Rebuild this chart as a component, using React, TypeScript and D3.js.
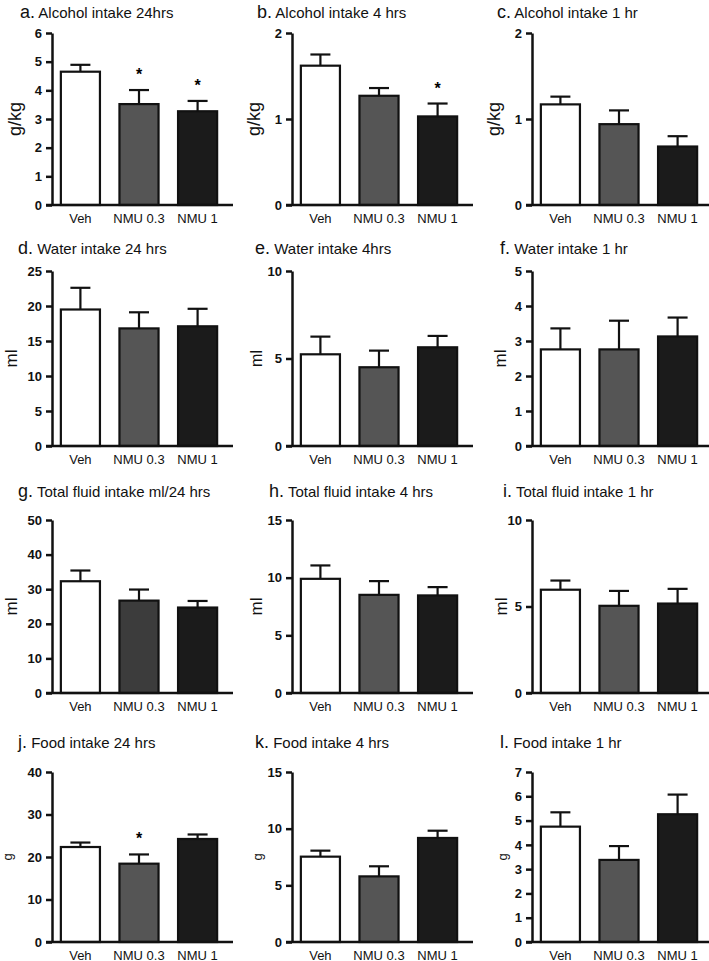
import React, { useEffect, useRef } from 'react';
import * as d3 from 'd3';

const categories = ['Veh', 'NMU 0.3', 'NMU 1'];

// means and SEM
const alcohol24Mean = [4.65, 3.52, 3.27];
const alcohol24Sem = [0.24, 0.49, 0.36];
const alcohol24Ticks = [0, 1, 2, 3, 4, 5, 6];

const alcohol4Mean = [1.62, 1.27, 1.03];
const alcohol4Sem = [0.13, 0.09, 0.15];
const alcohol4Ticks = [0, 1, 2];

const alcohol1Mean = [1.17, 0.94, 0.68];
const alcohol1Sem = [0.09, 0.16, 0.12];
const alcohol1Ticks = [0, 1, 2];

const water24Mean = [19.5, 16.8, 17.1];
const water24Sem = [3.1, 2.3, 2.5];
const water24Ticks = [0, 5, 10, 15, 20, 25];

const water4Mean = [5.24, 4.5, 5.64];
const water4Sem = [1.01, 0.95, 0.65];
const water4Ticks = [0, 5, 10];

const water1Mean = [2.76, 2.76, 3.13];
const water1Sem = [0.6, 0.82, 0.54];
const water1Ticks = [0, 1, 2, 3, 4, 5];

const fluid24Mean = [32.3, 26.7, 24.7];
const fluid24Sem = [3.1, 3.2, 1.9];
const fluid24Ticks = [0, 10, 20, 30, 40, 50];

const fluid4Mean = [9.9, 8.51, 8.46];
const fluid4Sem = [1.16, 1.19, 0.72];
const fluid4Ticks = [0, 5, 10, 15];

const fluid1Mean = [5.97, 5.04, 5.17];
const fluid1Sem = [0.53, 0.86, 0.85];
const fluid1Ticks = [0, 5, 10];

const food24Mean = [22.35, 18.43, 24.24];
const food24Sem = [1.05, 2.17, 1.06];
const food24Ticks = [0, 10, 20, 30, 40];

const food4Mean = [7.53, 5.79, 9.18];
const food4Sem = [0.53, 0.89, 0.64];
const food4Ticks = [0, 5, 10, 15];

const food1Mean = [4.75, 3.38, 5.26];
const food1Sem = [0.59, 0.57, 0.81];
const food1Ticks = [0, 1, 2, 3, 4, 5, 6, 7];

// significance marks (*)
const alcohol24Sig = [false, true, true];
const alcohol4Sig = [false, false, true];
const food24Sig = [false, true, false];
const noSig = [false, false, false];

const fills = ['#ffffff', '#555555', '#1b1b1b'];

// layout of the 4x3 grid
const colX = [52, 292, 532];
const rowTop = [33, 271, 520, 772];
const rowBottom = [205, 446, 693, 942];
const rowTitleY = [18, 254, 497, 748];

const panels = [
  { letter: 'a.', title: 'Alcohol intake 24hrs', yLabel: 'g/kg', mean: alcohol24Mean, sem: alcohol24Sem, ticks: alcohol24Ticks, sig: alcohol24Sig, row: 0, col: 0, titleDx: -32, labelDx: -31, labelSize: 18 },
  { letter: 'b.', title: 'Alcohol intake 4 hrs', yLabel: 'g/kg', mean: alcohol4Mean, sem: alcohol4Sem, ticks: alcohol4Ticks, sig: alcohol4Sig, row: 0, col: 1, titleDx: -35, labelDx: -32, labelSize: 18 },
  { letter: 'c.', title: 'Alcohol intake 1 hr', yLabel: 'g/kg', mean: alcohol1Mean, sem: alcohol1Sem, ticks: alcohol1Ticks, sig: noSig, row: 0, col: 2, titleDx: -35, labelDx: -32, labelSize: 18 },
  { letter: 'd.', title: 'Water intake 24 hrs', yLabel: 'ml', mean: water24Mean, sem: water24Sem, ticks: water24Ticks, sig: noSig, row: 1, col: 0, titleDx: -34, labelDx: -35, labelSize: 17 },
  { letter: 'e.', title: 'Water intake 4hrs', yLabel: 'ml', mean: water4Mean, sem: water4Sem, ticks: water4Ticks, sig: noSig, row: 1, col: 1, titleDx: -37, labelDx: -30, labelSize: 16 },
  { letter: 'f.', title: 'Water intake 1 hr', yLabel: 'ml', mean: water1Mean, sem: water1Sem, ticks: water1Ticks, sig: noSig, row: 1, col: 2, titleDx: -32, labelDx: -26, labelSize: 17 },
  { letter: 'g.', title: 'Total fluid intake ml/24 hrs', yLabel: 'ml', mean: fluid24Mean, sem: fluid24Sem, ticks: fluid24Ticks, sig: noSig, row: 2, col: 0, titleDx: -34, labelDx: -35, labelSize: 17, darker: true },
  { letter: 'h.', title: 'Total fluid intake 4 hrs', yLabel: 'ml', mean: fluid4Mean, sem: fluid4Sem, ticks: fluid4Ticks, sig: noSig, row: 2, col: 1, titleDx: -23, labelDx: -30, labelSize: 17 },
  { letter: 'i.', title: 'Total fluid intake 1 hr', yLabel: 'ml', mean: fluid1Mean, sem: fluid1Sem, ticks: fluid1Ticks, sig: noSig, row: 2, col: 2, titleDx: -29, labelDx: -25, labelSize: 17 },
  { letter: 'j.', title: 'Food intake 24 hrs', yLabel: 'g', mean: food24Mean, sem: food24Sem, ticks: food24Ticks, sig: food24Sig, row: 3, col: 0, titleDx: -34, labelDx: -40, labelSize: 13 },
  { letter: 'k.', title: 'Food intake 4 hrs', yLabel: 'g', mean: food4Mean, sem: food4Sem, ticks: food4Ticks, sig: noSig, row: 3, col: 1, titleDx: -37, labelDx: -30, labelSize: 13 },
  { letter: 'l.', title: 'Food intake 1 hr', yLabel: 'g', mean: food1Mean, sem: food1Sem, ticks: food1Ticks, sig: noSig, row: 3, col: 2, titleDx: -32, labelDx: -25, labelSize: 13 },
];

const FONT = "'Liberation Sans', Arial, Helvetica, sans-serif";

const App = () => {
  const ref = useRef<SVGSVGElement>(null);

  useEffect(() => {
    const svg = d3.select(ref.current);
    svg.selectAll('*').remove();

    panels.forEach((p) => {
      const x0 = colX[p.col];
      const top = rowTop[p.row];
      const bottom = rowBottom[p.row];
      const g = svg.append('g');

      const y = d3.scaleLinear().domain([0, d3.max(p.ticks) as number]).range([bottom, top]);
      const x = d3
        .scaleBand()
        .domain(categories)
        .range([x0 + 3, x0 + 171])
        .paddingInner(0.333)
        .paddingOuter(0.1);
      const cx = (i: number) => (x(categories[i]) as number) + x.bandwidth() / 2;
      const barFills = p.darker ? [fills[0], '#3c3c3c', fills[2]] : fills;

      // bars
      g.selectAll('rect')
        .data(p.mean)
        .join('rect')
        .attr('x', (d, i) => x(categories[i]) as number)
        .attr('y', (d) => y(d))
        .attr('width', x.bandwidth())
        .attr('height', (d) => bottom - y(d))
        .attr('fill', (d, i) => barFills[i])
        .attr('stroke', '#111')
        .attr('stroke-width', 2.2);

      // error bars (upper only)
      p.mean.forEach((m, i) => {
        const top2 = y(m + p.sem[i]);
        g.append('line')
          .attr('x1', cx(i)).attr('x2', cx(i))
          .attr('y1', y(m)).attr('y2', top2)
          .attr('stroke', '#111').attr('stroke-width', 2.2);
        g.append('line')
          .attr('x1', cx(i) - 10).attr('x2', cx(i) + 10)
          .attr('y1', top2).attr('y2', top2)
          .attr('stroke', '#111').attr('stroke-width', 2.2);
        if (p.sig[i]) {
          g.append('text')
            .attr('x', cx(i))
            .attr('y', top2 - 10)
            .attr('text-anchor', 'middle')
            .style('font-family', FONT)
            .style('font-size', '16px')
            .style('font-weight', 'bold')
            .text('*');
        }
      });

      // y axis
      const yAxis = g
        .append('g')
        .attr('transform', `translate(${x0},0)`)
        .call(d3.axisLeft(y).tickValues(p.ticks).tickFormat(d3.format('d')).tickSize(6).tickSizeOuter(0).tickPadding(4));
      yAxis.select('.domain').attr('stroke', '#111').attr('stroke-width', 2.5);
      yAxis.selectAll('.tick line').attr('stroke', '#111').attr('stroke-width', 2.5);
      yAxis
        .selectAll('.tick text')
        .attr('fill', '#111')
        .style('font-family', FONT)
        .style('font-size', '13px')
        .style('font-weight', 'bold');

      // x axis line
      g.append('line')
        .attr('x1', x0 - 6).attr('x2', x0 + 181)
        .attr('y1', bottom).attr('y2', bottom)
        .attr('stroke', '#111').attr('stroke-width', 2.5);

      // category labels
      categories.forEach((c, i) => {
        g.append('text')
          .attr('x', cx(i))
          .attr('y', bottom + 17.5)
          .attr('text-anchor', 'middle')
          .style('font-family', FONT)
          .style('font-size', '13px')
          .attr('fill', '#111')
          .text(c);
      });

      // y label
      g.append('text')
        .attr('transform', `translate(${x0 + p.labelDx},${(top + bottom) / 2}) rotate(-90)`)
        .attr('text-anchor', 'middle')
        .style('font-family', FONT)
        .style('font-size', `${p.labelSize}px`)
        .attr('fill', '#111')
        .text(p.yLabel);

      // panel title
      const t = g
        .append('text')
        .attr('x', x0 + p.titleDx)
        .attr('y', rowTitleY[p.row])
        .style('font-family', FONT)
        .attr('fill', '#111');
      t.append('tspan').style('font-size', '18px').text(p.letter);
      t.append('tspan').style('font-size', '15px').text(' ' + p.title);
    });
  }, []);

  return (
    <svg
      ref={ref}
      width={709}
      height={961}
      style={{ position: 'absolute', left: 0, top: 0, background: '#fff', display: 'block' }}
    />
  );
};

export default App;
